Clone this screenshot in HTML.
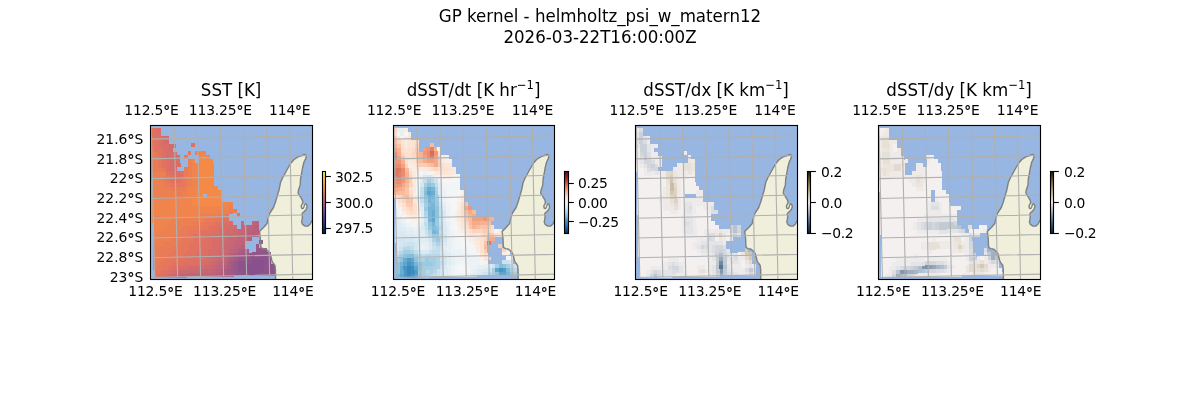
<!DOCTYPE html>
<html lang="en"><head><meta charset="utf-8"><title>GP kernel - helmholtz_psi_w_matern12</title>
<style>html,body{margin:0;padding:0;background:#fff}svg{display:block}text{font-family:"DejaVu Sans","Liberation Sans",sans-serif;fill:#000}</style></head><body>
<svg width="1200" height="400" viewBox="0 0 1200 400">
<rect width="1200" height="400" fill="#fff"/>
<defs>
<clipPath id="ax0"><rect x="150.50" y="125.50" width="162.00" height="154.00"/></clipPath>
<linearGradient id="cb0" x1="0" y1="0" x2="0" y2="1"><stop offset="0.0000" stop-color="#e7fa5a"/><stop offset="0.0417" stop-color="#eee851"/><stop offset="0.0833" stop-color="#f5d648"/><stop offset="0.1250" stop-color="#f8c542"/><stop offset="0.1667" stop-color="#fab33e"/><stop offset="0.2083" stop-color="#faa33f"/><stop offset="0.2500" stop-color="#f79443"/><stop offset="0.2917" stop-color="#f2864b"/><stop offset="0.3333" stop-color="#e87a58"/><stop offset="0.3750" stop-color="#dd6f64"/><stop offset="0.4167" stop-color="#ce696f"/><stop offset="0.4583" stop-color="#c0647a"/><stop offset="0.5000" stop-color="#b05e80"/><stop offset="0.5417" stop-color="#9f5986"/><stop offset="0.5833" stop-color="#91548a"/><stop offset="0.6250" stop-color="#824e8e"/><stop offset="0.6667" stop-color="#734892"/><stop offset="0.7083" stop-color="#644197"/><stop offset="0.7500" stop-color="#533b9a"/><stop offset="0.7917" stop-color="#41369a"/><stop offset="0.8333" stop-color="#2e3292"/><stop offset="0.8750" stop-color="#1c3179"/><stop offset="0.9167" stop-color="#0c2f60"/><stop offset="0.9583" stop-color="#082949"/><stop offset="1.0000" stop-color="#032333"/></linearGradient>
<clipPath id="ax1"><rect x="393.50" y="125.50" width="161.00" height="154.00"/></clipPath>
<linearGradient id="cb1" x1="0" y1="0" x2="0" y2="1"><stop offset="0.0000" stop-color="#67001f"/><stop offset="0.0417" stop-color="#840924"/><stop offset="0.0833" stop-color="#a51429"/><stop offset="0.1250" stop-color="#ba2832"/><stop offset="0.1667" stop-color="#c94741"/><stop offset="0.2083" stop-color="#d86551"/><stop offset="0.2500" stop-color="#e48066"/><stop offset="0.2917" stop-color="#f19e7d"/><stop offset="0.3333" stop-color="#f7b799"/><stop offset="0.3750" stop-color="#fbccb4"/><stop offset="0.4167" stop-color="#fcdfcf"/><stop offset="0.4583" stop-color="#f9ebe3"/><stop offset="0.5000" stop-color="#f7f6f6"/><stop offset="0.5417" stop-color="#e7f0f4"/><stop offset="0.5833" stop-color="#d7e8f1"/><stop offset="0.6250" stop-color="#c2ddec"/><stop offset="0.6667" stop-color="#a7d0e4"/><stop offset="0.7083" stop-color="#8ac0db"/><stop offset="0.7500" stop-color="#6bacd1"/><stop offset="0.7917" stop-color="#4997c5"/><stop offset="0.8333" stop-color="#3783bb"/><stop offset="0.8750" stop-color="#2a71b2"/><stop offset="0.9167" stop-color="#1c5c9f"/><stop offset="0.9583" stop-color="#10457e"/><stop offset="1.0000" stop-color="#053061"/></linearGradient>
<clipPath id="ax2"><rect x="635.50" y="125.50" width="162.00" height="154.00"/></clipPath>
<linearGradient id="cb2" x1="0" y1="0" x2="0" y2="1"><stop offset="0.0000" stop-color="#1c1803"/><stop offset="0.0417" stop-color="#352d12"/><stop offset="0.0833" stop-color="#4f4121"/><stop offset="0.1250" stop-color="#685630"/><stop offset="0.1667" stop-color="#7b6943"/><stop offset="0.2083" stop-color="#8d7b55"/><stop offset="0.2500" stop-color="#a08e68"/><stop offset="0.2917" stop-color="#b0a07f"/><stop offset="0.3333" stop-color="#bfb295"/><stop offset="0.3750" stop-color="#cfc4ac"/><stop offset="0.4167" stop-color="#dbd3c2"/><stop offset="0.4583" stop-color="#e8e1d9"/><stop offset="0.5000" stop-color="#f4f0ef"/><stop offset="0.5417" stop-color="#dedfe3"/><stop offset="0.5833" stop-color="#c8cfd7"/><stop offset="0.6250" stop-color="#b2becb"/><stop offset="0.6667" stop-color="#99aabb"/><stop offset="0.7083" stop-color="#8196ab"/><stop offset="0.7500" stop-color="#68829b"/><stop offset="0.7917" stop-color="#52718e"/><stop offset="0.8333" stop-color="#3c6180"/><stop offset="0.8750" stop-color="#265073"/><stop offset="0.9167" stop-color="#1c4161"/><stop offset="0.9583" stop-color="#123150"/><stop offset="1.0000" stop-color="#08223e"/></linearGradient>
<clipPath id="ax3"><rect x="878.50" y="125.50" width="162.00" height="154.00"/></clipPath>
<linearGradient id="cb3" x1="0" y1="0" x2="0" y2="1"><stop offset="0.0000" stop-color="#1c1803"/><stop offset="0.0417" stop-color="#352d12"/><stop offset="0.0833" stop-color="#4f4121"/><stop offset="0.1250" stop-color="#685630"/><stop offset="0.1667" stop-color="#7b6943"/><stop offset="0.2083" stop-color="#8d7b55"/><stop offset="0.2500" stop-color="#a08e68"/><stop offset="0.2917" stop-color="#b0a07f"/><stop offset="0.3333" stop-color="#bfb295"/><stop offset="0.3750" stop-color="#cfc4ac"/><stop offset="0.4167" stop-color="#dbd3c2"/><stop offset="0.4583" stop-color="#e8e1d9"/><stop offset="0.5000" stop-color="#f4f0ef"/><stop offset="0.5417" stop-color="#dedfe3"/><stop offset="0.5833" stop-color="#c8cfd7"/><stop offset="0.6250" stop-color="#b2becb"/><stop offset="0.6667" stop-color="#99aabb"/><stop offset="0.7083" stop-color="#8196ab"/><stop offset="0.7500" stop-color="#68829b"/><stop offset="0.7917" stop-color="#52718e"/><stop offset="0.8333" stop-color="#3c6180"/><stop offset="0.8750" stop-color="#265073"/><stop offset="0.9167" stop-color="#1c4161"/><stop offset="0.9583" stop-color="#123150"/><stop offset="1.0000" stop-color="#08223e"/></linearGradient>
<path id="land" d="M275.6 281.0 L275.5 270.0 L275.0 265.5 L273.5 263.5 L272.0 261.0 L271.0 257.0 L270.0 253.5 L268.5 251.5 L266.0 249.3 L263.0 248.6 L261.0 247.6 L260.6 244.0 L260.5 240.0 L260.0 235.0 L259.5 231.5 L261.0 230.0 L264.0 227.0 L267.0 223.5 L267.5 221.0 L269.0 215.0 L270.5 212.0 L273.5 207.5 L275.5 202.0 L277.5 195.0 L279.0 190.0 L280.5 182.5 L282.5 178.0 L285.0 173.5 L288.0 168.0 L291.0 163.0 L294.0 159.5 L298.0 156.8 L302.0 155.5 L303.3 154.8 L304.5 154.7 L305.0 154.4 L305.9 155.0 L306.3 156.5 L305.7 158.6 L304.0 162.0 L302.5 168.0 L301.5 174.0 L300.5 179.0 L300.2 185.0 L298.5 190.0 L298.0 193.0 L299.8 195.9 L302.5 200.4 L302.9 203.3 L305.4 203.8 L306.5 204.4 L307.1 206.7 L306.2 209.4 L304.3 211.4 L302.5 213.0 L302.0 214.4 L302.5 216.6 L302.0 220.2 L301.6 222.0 L302.5 224.3 L305.2 226.1 L307.9 226.1 L310.1 224.3 L311.5 221.6 L312.6 219.8 L315.0 217.0 L316.0 217.0 L316.0 281.0Z"/>
<path id="coast" d="M275.6 281.0 L275.5 270.0 L275.0 265.5 L273.5 263.5 L272.0 261.0 L271.0 257.0 L270.0 253.5 L268.5 251.5 L266.0 249.3 L263.0 248.6 L261.0 247.6 L260.6 244.0 L260.5 240.0 L260.0 235.0 L259.5 231.5 L261.0 230.0 L264.0 227.0 L267.0 223.5 L267.5 221.0 L269.0 215.0 L270.5 212.0 L273.5 207.5 L275.5 202.0 L277.5 195.0 L279.0 190.0 L280.5 182.5 L282.5 178.0 L285.0 173.5 L288.0 168.0 L291.0 163.0 L294.0 159.5 L298.0 156.8 L302.0 155.5 L303.3 154.8 L304.5 154.7 L305.0 154.4 L305.9 155.0 L306.3 156.5 L305.7 158.6 L304.0 162.0 L302.5 168.0 L301.5 174.0 L300.5 179.0 L300.2 185.0 L298.5 190.0 L298.0 193.0 L299.8 195.9 L302.5 200.4 L302.9 203.3 L302.0 204.3 L301.2 206.3 L301.7 208.2 L303.1 208.5 L304.0 206.7 L304.5 204.7 L305.4 203.8 L306.5 204.4 L307.1 206.7 L306.2 209.4 L304.3 211.4 L302.5 213.0 L302.0 214.4 L302.5 216.6 L302.0 220.2 L301.6 222.0 L302.5 224.3 L305.2 226.1 L307.9 226.1 L310.1 224.3 L311.5 221.6 L312.6 219.8 L315.0 217.0"/>
<path id="grid" d="M150.76 109.42L155.04 297.24M173.85 108.94L178.03 296.75M196.94 108.45L201.03 296.26M220.03 107.96L224.02 295.78M243.12 107.47L247.02 295.29M266.21 106.99L270.02 294.80M289.30 106.50L293.01 294.31M312.40 106.01L316.01 293.83M141.76 119.50L326.44 115.60M142.21 139.27L326.81 135.37M142.66 159.04L327.18 155.14M143.12 178.81L327.56 174.91M143.57 198.58L327.93 194.68M144.03 218.35L328.31 214.45M144.48 238.12L328.68 234.22M144.93 257.89L329.05 253.99M145.39 277.66L329.43 273.76M145.84 297.43L329.80 293.53"/>
</defs>
<text x="600" y="0" transform="matrix(1 0 0 1.06 0 21.8)" font-size="16.67" text-anchor="middle">GP kernel - helmholtz_psi_w_matern12</text>
<text x="600" y="0" transform="matrix(1 0 0 1.06 0 43.0)" font-size="16.67" text-anchor="middle">2026-03-22T16:00:00Z</text>
<g clip-path="url(#ax0)">
<rect x="149.5" y="124.5" width="164.0" height="156.0" fill="#97b6e1"/>
<use href="#land" fill="#efefdb" transform="translate(0.00 0)"/>
<g shape-rendering="crispEdges">
<path fill="#8d538b" d="M238 261h4v5h-4z"/>
<path fill="#dd6f64" d="M194 262h4v5h-4z"/>
<path fill="#ed8051" d="M159 176h4v5h-4zM164 235h4v5h-4z"/>
<path fill="#f48948" d="M196 191h4v5h-4z"/>
<path fill="#88518d" d="M252 260h12v4h-12zM245 264h19v4h-19zM245 268h19v4h-19zM249 272h11v4h-11z"/>
<path fill="#8d538b" d="M252 256h15v4h-15zM238 261h3v4h-3zM241 261h4v3h-4zM245 260h7v4h-7zM264 260h7v4h-7zM238 265h4v4h-4zM242 264h3v4h-3zM264 264h11v4h-11zM238 269h4v3h-4zM242 268h3v4h-3zM264 268h11v4h-11zM242 272h7v4h-7zM260 272h15v4h-15z"/>
<path fill="#92558a" d="M263 248h4v4h-4zM252 252h19v4h-19zM245 257h4v3h-4zM249 256h3v4h-3zM267 256h4v4h-4zM238 272h4v4h-4z"/>
<path fill="#985788" d="M256 248h7v4h-7zM249 253h3v3h-3zM238 257h7v4h-7zM234 261h4v4h-4zM234 265h4v4h-4zM234 269h4v4h-4zM234 273h4v3h-4z"/>
<path fill="#9e5987" d="M259 240h4v4h-4zM256 244h3v4h-3zM241 253h8v4h-8zM231 265h3v4h-3zM231 269h3v4h-3zM231 273h3v4h-3z"/>
<path fill="#a35b85" d="M238 253h3v4h-3zM234 257h4v4h-4zM230 261h4v4h-4zM227 269h4v4h-4zM227 273h4v4h-4z"/>
<path fill="#a95d82" d="M241 249h8v4h-8zM227 265h4v4h-4zM223 269h4v4h-4zM223 273h4v4h-4z"/>
<path fill="#b05e80" d="M238 249h3v4h-3zM234 253h4v4h-4zM230 257h4v4h-4zM227 261h3v4h-3zM220 273h3v4h-3z"/>
<path fill="#b6607e" d="M255 225h4v4h-4zM252 229h7v4h-7zM248 233h11v4h-11zM248 237h4v4h-4zM241 245h4v4h-4zM230 253h4v4h-4zM227 257h3v4h-3zM223 265h4v4h-4zM220 269h3v4h-3zM216 273h4v4h-4z"/>
<path fill="#bc627b" d="M255 221h4v4h-4zM252 225h3v4h-3zM248 229h4v4h-4zM245 233h3v4h-3zM245 237h3v4h-3zM241 241h4v4h-4zM237 245h4v4h-4zM234 249h4v4h-4zM223 261h4v4h-4zM220 265h3v4h-3zM216 269h4v4h-4zM209 273h7v4h-7z"/>
<path fill="#c26479" d="M252 221h3v4h-3zM248 225h4v4h-4zM244 229h4v4h-4zM241 233h4v4h-4zM237 237h8v4h-8zM234 241h7v4h-7zM234 245h3v4h-3zM230 249h4v4h-4zM227 253h3v4h-3zM223 257h4v4h-4zM219 261h4v4h-4zM216 265h4v4h-4zM212 269h4v4h-4zM179 274h8v4h-8zM187 274h3v3h-3zM190 273h19v4h-19z"/>
<path fill="#c76674" d="M241 225h7v4h-7zM237 229h7v4h-7zM237 233h4v4h-4zM230 237h7v4h-7zM230 241h4v4h-4zM226 245h8v4h-8zM227 249h3v4h-3zM223 253h4v4h-4zM219 257h4v4h-4zM216 261h3v4h-3zM212 265h4v4h-4zM201 269h11v4h-11zM176 274h3v4h-3z"/>
<path fill="#cc6970" d="M241 221h3v4h-3zM233 229h4v4h-4zM230 233h7v4h-7zM226 237h4v4h-4zM223 241h7v4h-7zM223 245h3v4h-3zM223 249h4v4h-4zM219 253h4v4h-4zM216 257h3v4h-3zM212 261h4v4h-4zM205 265h7v4h-7zM179 270h11v4h-11zM190 270h4v3h-4zM194 269h7v4h-7zM172 274h4v4h-4z"/>
<path fill="#d26b6c" d="M165 140h4v4h-4zM169 144h7v4h-7zM169 148h4v4h-4zM173 156h4v4h-4zM230 225h7v4h-7zM226 229h7v4h-7zM223 233h7v4h-7zM219 237h7v4h-7zM219 241h4v4h-4zM219 245h4v4h-4zM216 249h7v4h-7zM216 253h3v4h-3zM212 257h4v4h-4zM208 261h4v4h-4zM187 266h7v4h-7zM194 266h4v3h-4zM198 265h7v4h-7zM176 270h3v4h-3zM168 274h4v4h-4z"/>
<path fill="#d86d68" d="M158 128h3v4h-3zM162 136h7v4h-7zM162 140h3v4h-3zM162 144h7v4h-7zM165 148h4v4h-4zM166 152h11v4h-11zM166 156h7v4h-7zM177 155h3v4h-3zM169 160h4v4h-4zM173 160h4v3h-4zM177 159h3v4h-3zM170 164h3v3h-3zM173 163h8v4h-8zM170 167h7v4h-7zM230 221h3v4h-3zM222 225h8v4h-8zM219 229h7v4h-7zM215 234h4v3h-4zM219 233h4v4h-4zM212 238h3v3h-3zM215 237h4v4h-4zM212 241h7v4h-7zM212 245h7v4h-7zM208 249h8v4h-8zM208 253h8v4h-8zM205 257h7v4h-7zM201 261h7v4h-7zM179 266h8v4h-8zM172 270h4v4h-4zM165 274h3v4h-3z"/>
<path fill="#dd6f64" d="M154 128h4v4h-4zM154 132h7v4h-7zM154 136h8v4h-8zM158 140h4v4h-4zM158 144h4v4h-4zM191 143h4v4h-4zM162 148h3v4h-3zM162 152h4v4h-4zM162 156h4v4h-4zM166 160h3v4h-3zM166 164h4v4h-4zM166 168h4v3h-4zM170 171h11v4h-11zM173 175h8v4h-8zM222 222h4v3h-4zM226 221h4v4h-4zM215 226h4v4h-4zM219 226h3v3h-3zM211 230h8v4h-8zM204 234h11v4h-11zM204 238h8v4h-8zM201 242h7v4h-7zM208 242h4v3h-4zM201 246h7v4h-7zM208 245h4v4h-4zM197 250h8v4h-8zM205 250h3v3h-3zM194 254h7v4h-7zM201 254h4v3h-4zM205 253h3v4h-3zM190 258h7v4h-7zM197 258h4v3h-4zM201 257h4v4h-4zM183 262h14v4h-14zM197 261h4v4h-4zM172 266h7v4h-7zM168 270h4v4h-4zM161 274h4v4h-4z"/>
<path fill="#e27260" d="M150 128h4v4h-4zM150 132h4v4h-4zM151 136h3v4h-3zM154 140h4v4h-4zM154 144h4v4h-4zM154 148h8v4h-8zM158 152h4v4h-4zM162 160h4v4h-4zM162 164h4v4h-4zM166 171h4v4h-4zM181 171h3v4h-3zM170 175h3v4h-3zM181 175h3v4h-3zM170 179h11v4h-11zM237 213h3v4h-3zM222 218h4v4h-4zM226 218h3v3h-3zM215 222h7v4h-7zM208 226h7v4h-7zM200 230h11v4h-11zM193 234h11v4h-11zM193 238h11v4h-11zM190 242h11v4h-11zM190 246h11v4h-11zM186 250h11v4h-11zM183 254h11v4h-11zM179 258h11v4h-11zM172 262h11v4h-11zM168 266h4v4h-4zM161 270h7v4h-7zM157 274h4v4h-4z"/>
<path fill="#e6775b" d="M151 140h3v4h-3zM151 144h3v4h-3zM151 148h3v4h-3zM155 152h3v4h-3zM188 151h3v4h-3zM158 156h4v4h-4zM184 155h4v4h-4zM158 160h4v4h-4zM158 164h4v4h-4zM162 168h4v4h-4zM166 175h4v4h-4zM166 179h4v4h-4zM181 179h4v4h-4zM170 183h15v4h-15zM226 214h3v4h-3zM215 218h7v4h-7zM204 222h11v4h-11zM197 226h11v4h-11zM189 230h11v4h-11zM186 234h7v4h-7zM182 238h11v4h-11zM179 242h11v4h-11zM175 246h15v4h-15zM171 250h15v4h-15zM168 254h15v4h-15zM164 258h15v4h-15zM161 262h11v4h-11zM157 266h11v4h-11zM154 270h7v4h-7zM154 274h3v4h-3z"/>
<path fill="#e97b56" d="M151 152h4v4h-4zM151 156h7v4h-7zM151 160h7v4h-7zM151 164h7v4h-7zM151 168h11v4h-11zM184 167h4v4h-4zM184 171h4v4h-4zM162 176h4v3h-4zM184 175h4v4h-4zM163 179h3v4h-3zM185 179h3v4h-3zM163 183h7v4h-7zM185 183h3v4h-3zM170 187h15v4h-15zM177 191h4v4h-4zM229 210h4v4h-4zM233 209h4v4h-4zM218 214h8v4h-8zM204 218h11v4h-11zM193 222h11v4h-11zM182 226h15v4h-15zM178 230h11v4h-11zM175 234h11v4h-11zM171 238h11v4h-11zM164 242h15v4h-15zM153 247h7v4h-7zM160 247h4v3h-4zM164 246h11v4h-11zM153 251h4v4h-4zM157 251h3v3h-3zM160 250h11v4h-11zM153 255h4v3h-4zM157 254h11v4h-11zM153 258h11v4h-11zM153 262h8v4h-8zM153 266h4v4h-4z"/>
<path fill="#ed8051" d="M195 151h4v4h-4zM188 159h3v4h-3zM188 163h4v4h-4zM188 167h4v4h-4zM151 172h15v4h-15zM188 171h4v4h-4zM151 176h11v4h-11zM188 175h4v4h-4zM152 180h7v4h-7zM159 180h4v3h-4zM188 179h4v4h-4zM152 184h3v4h-3zM155 184h4v3h-4zM159 183h4v4h-4zM188 183h4v4h-4zM152 188h3v4h-3zM155 187h15v4h-15zM185 187h3v4h-3zM152 192h3v3h-3zM155 191h22v4h-22zM181 191h7v4h-7zM152 195h33v4h-33zM229 206h4v4h-4zM218 210h11v4h-11zM200 214h18v4h-18zM171 219h7v4h-7zM178 219h4v3h-4zM182 218h22v4h-22zM167 223h8v4h-8zM175 223h3v3h-3zM178 222h15v4h-15zM164 227h11v4h-11zM175 226h7v4h-7zM153 231h18v4h-18zM171 231h4v3h-4zM175 230h3v4h-3zM153 235h14v4h-14zM167 235h4v3h-4zM171 234h4v4h-4zM153 239h11v4h-11zM164 239h4v3h-4zM168 238h3v4h-3zM153 243h11v4h-11z"/>
<path fill="#f0844c" d="M199 151h7v4h-7zM199 155h3v4h-3zM206 155h4v4h-4zM191 159h4v4h-4zM192 163h7v4h-7zM192 167h7v4h-7zM192 171h7v4h-7zM192 175h7v4h-7zM192 179h7v4h-7zM192 183h7v4h-7zM188 187h8v4h-8zM188 191h8v4h-8zM185 195h11v4h-11zM152 199h40v4h-40zM152 203h37v4h-37zM189 203h3v3h-3zM222 202h11v4h-11zM152 207h33v4h-33zM185 207h4v3h-4zM189 206h40v4h-40zM152 211h33v4h-33zM185 210h33v4h-33zM152 215h30v4h-30zM182 215h3v3h-3zM185 214h15v4h-15zM152 219h19v4h-19zM153 223h14v4h-14zM153 227h11v4h-11z"/>
<path fill="#f48948" d="M202 155h4v4h-4zM199 159h14v4h-14zM199 163h15v4h-15zM199 167h15v4h-15zM199 171h11v4h-11zM210 171h4v3h-4zM199 175h11v4h-11zM210 174h4v4h-4zM199 179h8v4h-8zM207 179h3v3h-3zM210 178h4v4h-4zM199 183h4v4h-4zM203 183h4v3h-4zM207 182h7v4h-7zM196 187h3v4h-3zM199 187h4v3h-4zM203 186h15v4h-15zM196 191h3v4h-3zM199 190h23v4h-23zM196 195h4v3h-4zM200 194h3v4h-3zM207 194h15v4h-15zM192 199h4v3h-4zM196 198h26v4h-26zM192 202h30v4h-30z"/>
</g>
<g transform="translate(0.00 0)">
<use href="#coast" fill="none" stroke="#808080" stroke-width="1.39" stroke-linejoin="round"/>
<use href="#grid" fill="none" stroke="#b0b0b0" stroke-width="1.11"/>
</g></g>
<rect x="150.5" y="125.5" width="162.0" height="154.0" fill="none" stroke="#000" stroke-width="1.11"/>
<text x="231.10" y="0" transform="matrix(1 0 0 1.07 0 95.8)" font-size="16.67" text-anchor="middle">SST [K]</text>
<text x="151.50" y="115.1" font-size="13.89" letter-spacing="-0.16" text-anchor="middle">112.5<tspan dy="1.2" stroke="#000" stroke-width="0.25">°</tspan><tspan dy="-1.2">E</tspan></text>
<text x="155.40" y="296.3" font-size="13.89" letter-spacing="-0.16" text-anchor="middle">112.5<tspan dy="1.2" stroke="#000" stroke-width="0.25">°</tspan><tspan dy="-1.2">E</tspan></text>
<text x="220.30" y="115.1" font-size="13.89" letter-spacing="-0.16" text-anchor="middle">113.25<tspan dy="1.2" stroke="#000" stroke-width="0.25">°</tspan><tspan dy="-1.2">E</tspan></text>
<text x="224.60" y="296.3" font-size="13.89" letter-spacing="-0.16" text-anchor="middle">113.25<tspan dy="1.2" stroke="#000" stroke-width="0.25">°</tspan><tspan dy="-1.2">E</tspan></text>
<text x="289.75" y="115.1" font-size="13.89" letter-spacing="-0.16" text-anchor="middle">114<tspan dy="1.2" stroke="#000" stroke-width="0.25">°</tspan><tspan dy="-1.2">E</tspan></text>
<text x="292.90" y="296.3" font-size="13.89" letter-spacing="-0.16" text-anchor="middle">114<tspan dy="1.2" stroke="#000" stroke-width="0.25">°</tspan><tspan dy="-1.2">E</tspan></text>
<text x="143.2" y="144.00" font-size="13.89" text-anchor="end">21.6<tspan dy="1.2" stroke="#000" stroke-width="0.25">°</tspan><tspan dy="-1.2">S</tspan></text>
<text x="143.2" y="163.66" font-size="13.89" text-anchor="end">21.8<tspan dy="1.2" stroke="#000" stroke-width="0.25">°</tspan><tspan dy="-1.2">S</tspan></text>
<text x="143.2" y="183.32" font-size="13.89" text-anchor="end">22<tspan dy="1.2" stroke="#000" stroke-width="0.25">°</tspan><tspan dy="-1.2">S</tspan></text>
<text x="143.2" y="202.98" font-size="13.89" text-anchor="end">22.2<tspan dy="1.2" stroke="#000" stroke-width="0.25">°</tspan><tspan dy="-1.2">S</tspan></text>
<text x="143.2" y="222.64" font-size="13.89" text-anchor="end">22.4<tspan dy="1.2" stroke="#000" stroke-width="0.25">°</tspan><tspan dy="-1.2">S</tspan></text>
<text x="143.2" y="242.30" font-size="13.89" text-anchor="end">22.6<tspan dy="1.2" stroke="#000" stroke-width="0.25">°</tspan><tspan dy="-1.2">S</tspan></text>
<text x="143.2" y="261.96" font-size="13.89" text-anchor="end">22.8<tspan dy="1.2" stroke="#000" stroke-width="0.25">°</tspan><tspan dy="-1.2">S</tspan></text>
<text x="143.2" y="281.62" font-size="13.89" text-anchor="end">23<tspan dy="1.2" stroke="#000" stroke-width="0.25">°</tspan><tspan dy="-1.2">S</tspan></text>
<rect x="322.50" y="171.50" width="3.00" height="62.00" fill="url(#cb0)"/>
<rect x="322.50" y="171.50" width="3.00" height="62.00" fill="none" stroke="#000" stroke-width="1.11"/>
<path d="M326.00 176.5h4.86" stroke="#000" stroke-width="1.11"/>
<text x="335.00" y="181.75" font-size="13.89" letter-spacing="-0.35">302.5</text>
<path d="M326.00 202.5h4.86" stroke="#000" stroke-width="1.11"/>
<text x="335.00" y="207.70" font-size="13.89" letter-spacing="-0.35">300.0</text>
<path d="M326.00 228.5h4.86" stroke="#000" stroke-width="1.11"/>
<text x="335.00" y="233.00" font-size="13.89" letter-spacing="-0.35">297.5</text>
<g clip-path="url(#ax1)">
<rect x="392.5" y="124.5" width="163.0" height="156.0" fill="#97b6e1"/>
<use href="#land" fill="#efefdb" transform="translate(242.60 0)"/>
<g shape-rendering="crispEdges">
<path fill="#aed3e6" d="M433 266h4v5h-4z"/>
<path fill="#d4e6f1" d="M403 239h4v5h-4z"/>
<path fill="#fbccb4" d="M465 218h4v5h-4z"/>
<path fill="#e98b6e" d="M398 180h4v5h-4z"/>
<path fill="#3a87bd" d="M407 266h4v4h-4zM407 270h4v4h-4z"/>
<path fill="#3f8ec0" d="M411 266h3v4h-3zM411 270h4v4h-4zM407 274h4v4h-4z"/>
<path fill="#4695c4" d="M407 262h4v4h-4zM403 266h4v4h-4zM404 270h3v4h-3zM499 268h4v4h-4zM404 274h3v4h-3zM411 274h4v4h-4z"/>
<path fill="#529dc8" d="M407 258h4v4h-4zM411 262h3v4h-3zM415 270h3v4h-3zM503 268h3v4h-3z"/>
<path fill="#5fa5cd" d="M427 191h4v4h-4zM432 218h3v4h-3zM411 258h3v4h-3zM403 262h4v4h-4zM414 266h4v4h-4zM495 268h4v4h-4zM400 274h4v4h-4zM415 274h3v4h-3zM499 272h7v4h-7z"/>
<path fill="#6bacd1" d="M427 187h4v4h-4zM431 191h4v4h-4zM428 195h3v4h-3zM432 210h3v4h-3zM432 214h3v4h-3zM403 258h4v4h-4zM400 266h3v4h-3zM400 270h4v4h-4z"/>
<path fill="#78b4d5" d="M431 187h4v4h-4zM431 195h4v4h-4zM428 199h3v4h-3zM431 203h4v3h-4zM428 207h3v3h-3zM431 206h4v4h-4zM428 210h4v4h-4zM428 214h4v4h-4zM428 218h4v4h-4zM432 222h3v4h-3zM432 230h4v4h-4zM400 262h3v4h-3zM414 262h4v4h-4zM396 274h4v4h-4zM506 272h4v4h-4z"/>
<path fill="#84bcd9" d="M424 191h3v4h-3zM431 199h4v4h-4zM428 203h3v4h-3zM432 226h4v4h-4zM436 230h3v4h-3zM407 254h7v4h-7zM499 264h4v4h-4zM506 268h4v4h-4z"/>
<path fill="#90c4dd" d="M427 183h4v4h-4zM424 187h3v4h-3zM424 195h4v4h-4zM435 206h4v4h-4zM435 210h4v4h-4zM435 214h4v4h-4zM428 222h4v4h-4zM436 226h3v4h-3zM403 254h4v4h-4zM400 258h3v4h-3zM414 258h4v4h-4zM396 262h4v4h-4zM418 262h4v4h-4zM396 266h4v4h-4zM418 266h4v4h-4zM503 264h3v4h-3zM396 270h4v4h-4zM418 274h4v4h-4zM495 272h4v4h-4z"/>
<path fill="#9bc9e0" d="M431 183h4v4h-4zM424 199h4v4h-4zM435 199h4v3h-4zM435 202h4v4h-4zM424 207h4v4h-4zM435 218h4v4h-4zM435 222h4v4h-4zM428 226h4v4h-4zM432 234h7v4h-7zM436 238h4v4h-4zM425 258h4v4h-4zM422 262h11v4h-11zM418 270h4v4h-4zM510 272h4v4h-4z"/>
<path fill="#a5cee3" d="M427 179h4v4h-4zM424 183h3v4h-3zM435 191h3v4h-3zM435 195h4v4h-4zM424 203h4v4h-4zM403 250h7v4h-7zM399 254h4v4h-4zM414 254h4v4h-4zM396 258h4v4h-4zM429 258h7v4h-7zM433 262h3v4h-3zM422 266h11v4h-11zM495 264h4v4h-4zM506 264h4v4h-4zM422 270h4v4h-4zM492 268h3v4h-3zM422 274h4v4h-4zM492 272h3v4h-3zM514 272h3v4h-3z"/>
<path fill="#aed3e6" d="M435 187h3v4h-3zM424 211h4v4h-4zM428 230h4v4h-4zM432 238h4v4h-4zM436 242h4v4h-4zM410 250h4v4h-4zM418 258h7v4h-7zM436 258h4v4h-4zM436 262h4v4h-4zM433 266h3v4h-3zM436 266h4v3h-4zM429 270h4v4h-4zM510 268h4v4h-4zM426 274h3v4h-3z"/>
<path fill="#b8d8e9" d="M431 179h3v4h-3zM424 215h4v3h-4zM439 226h4v4h-4zM428 234h4v4h-4zM439 234h4v4h-4zM440 238h3v4h-3zM403 247h4v3h-4zM407 246h3v4h-3zM399 251h4v3h-4zM396 255h3v3h-3zM418 254h4v4h-4zM425 254h15v4h-15zM426 270h3v4h-3zM433 270h4v3h-4zM514 268h3v4h-3zM429 274h4v3h-4zM488 272h4v4h-4z"/>
<path fill="#c2ddec" d="M423 179h4v4h-4zM435 183h3v4h-3zM420 187h4v4h-4zM420 191h4v4h-4zM420 195h4v4h-4zM420 199h4v4h-4zM439 206h3v4h-3zM439 210h4v4h-4zM439 214h4v4h-4zM424 222h4v4h-4zM439 222h4v4h-4zM425 226h3v4h-3zM439 230h4v4h-4zM432 242h4v4h-4zM440 242h3v4h-3zM410 246h4v4h-4zM436 246h4v4h-4zM414 250h4v4h-4zM432 250h8v4h-8zM422 254h3v4h-3zM440 261h4v4h-4zM510 264h4v4h-4zM433 273h4v4h-4z"/>
<path fill="#cce2ef" d="M434 179h4v4h-4zM439 202h3v4h-3zM424 218h4v4h-4zM439 218h4v4h-4zM425 230h3v4h-3zM403 243h4v4h-4zM407 242h7v4h-7zM399 247h4v4h-4zM432 246h4v4h-4zM440 246h3v4h-3zM396 251h3v4h-3zM429 250h3v4h-3zM440 254h4v4h-4zM440 258h4v3h-4zM502 260h8v4h-8zM440 265h4v4h-4zM492 264h3v4h-3zM514 264h3v4h-3zM437 269h3v4h-3zM488 268h4v4h-4zM437 273h3v4h-3zM484 272h4v4h-4z"/>
<path fill="#d4e6f1" d="M427 175h4v4h-4zM420 183h4v4h-4zM439 195h3v3h-3zM420 203h4v4h-4zM425 234h3v4h-3zM443 234h4v4h-4zM399 239h7v4h-7zM406 239h4v3h-4zM410 238h4v4h-4zM428 238h4v4h-4zM443 238h4v4h-4zM399 243h4v4h-4zM414 242h4v4h-4zM414 246h4v4h-4zM418 250h3v4h-3zM440 250h3v4h-3zM444 257h3v4h-3zM444 261h3v4h-3zM440 269h4v4h-4zM440 273h4v4h-4zM481 272h3v4h-3z"/>
<path fill="#dae9f2" d="M423 175h4v4h-4zM420 179h3v4h-3zM438 191h4v4h-4zM439 198h3v4h-3zM443 210h3v4h-3zM443 214h3v4h-3zM443 222h3v4h-3zM421 226h4v4h-4zM443 226h4v4h-4zM395 231h11v4h-11zM443 230h4v4h-4zM395 235h15v4h-15zM410 235h4v3h-4zM395 239h4v4h-4zM414 238h7v4h-7zM396 243h3v4h-3zM429 242h3v4h-3zM443 242h4v4h-4zM396 247h3v4h-3zM429 246h3v4h-3zM421 250h8v4h-8zM444 254h3v3h-3zM510 260h3v4h-3zM444 265h3v4h-3zM481 269h3v3h-3zM484 268h4v4h-4zM477 273h4v3h-4z"/>
<path fill="#e0ecf3" d="M431 175h3v4h-3zM438 183h4v4h-4zM438 187h4v4h-4zM420 207h4v4h-4zM442 206h4v4h-4zM421 211h3v4h-3zM421 215h3v4h-3zM395 219h4v4h-4zM443 218h3v4h-3zM395 223h7v4h-7zM421 222h3v4h-3zM395 227h11v4h-11zM406 231h8v4h-8zM417 230h8v4h-8zM414 234h11v4h-11zM421 238h7v4h-7zM418 242h3v4h-3zM418 246h3v4h-3zM443 250h4v4h-4zM447 253h4v4h-4zM447 257h4v4h-4zM447 261h4v4h-4zM488 264h4v4h-4zM444 269h4v4h-4zM477 269h4v4h-4zM444 273h4v4h-4zM473 273h4v4h-4z"/>
<path fill="#e6eff4" d="M397 128h7v4h-7zM400 132h4v4h-4zM420 175h3v4h-3zM416 195h4v4h-4zM417 199h3v4h-3zM442 202h4v4h-4zM395 215h4v4h-4zM399 219h3v4h-3zM421 219h3v3h-3zM402 223h4v4h-4zM446 222h4v4h-4zM406 227h8v4h-8zM417 226h4v4h-4zM447 226h3v4h-3zM414 231h3v3h-3zM447 230h3v4h-3zM447 234h3v4h-3zM447 238h4v4h-4zM421 242h8v4h-8zM447 242h4v4h-4zM425 246h4v4h-4zM443 246h8v4h-8zM447 250h4v3h-4zM451 253h4v4h-4zM451 257h4v4h-4zM451 261h4v4h-4zM447 265h4v4h-4zM477 265h7v4h-7zM484 264h4v4h-4zM448 269h3v4h-3zM473 269h4v4h-4zM448 273h3v4h-3zM470 273h3v4h-3z"/>
<path fill="#ecf2f5" d="M423 171h4v4h-4zM434 175h4v4h-4zM438 179h4v4h-4zM442 187h4v3h-4zM442 190h4v4h-4zM442 194h4v4h-4zM442 198h4v4h-4zM395 207h3v4h-3zM446 206h4v4h-4zM395 211h4v4h-4zM446 210h4v4h-4zM399 215h3v4h-3zM446 214h4v4h-4zM402 219h4v4h-4zM446 218h4v4h-4zM406 223h4v4h-4zM417 223h4v3h-4zM414 227h3v4h-3zM450 230h4v4h-4zM450 234h4v4h-4zM451 238h3v4h-3zM451 242h3v3h-3zM421 246h4v4h-4zM451 245h3v4h-3zM451 249h11v4h-11zM455 253h14v4h-14zM455 257h25v4h-25zM455 261h3v4h-3zM466 261h14v4h-14zM451 265h4v4h-4zM469 265h8v4h-8zM451 269h4v4h-4zM470 269h3v4h-3zM451 273h4v4h-4zM466 273h4v4h-4z"/>
<path fill="#f2f5f6" d="M397 132h3v4h-3zM427 171h4v4h-4zM457 178h3v4h-3zM416 183h4v4h-4zM442 183h4v4h-4zM446 183h3v3h-3zM449 182h11v4h-11zM416 187h4v4h-4zM446 186h14v4h-14zM416 191h4v4h-4zM446 190h11v4h-11zM446 194h7v4h-7zM446 198h4v4h-4zM417 203h3v4h-3zM446 202h4v4h-4zM450 206h3v4h-3zM450 210h4v4h-4zM450 214h4v4h-4zM417 219h4v4h-4zM450 218h4v4h-4zM410 223h7v4h-7zM450 222h4v4h-4zM450 226h4v4h-4zM454 230h4v4h-4zM454 234h4v4h-4zM454 238h4v3h-4zM458 237h4v4h-4zM454 241h8v4h-8zM454 245h15v4h-15zM462 249h11v4h-11zM469 253h8v4h-8zM506 256h7v4h-7zM458 261h8v4h-8zM480 261h4v4h-4zM455 265h3v4h-3zM466 265h3v4h-3zM455 269h4v4h-4zM466 269h4v4h-4zM455 273h11v4h-11z"/>
<path fill="#f7f6f6" d="M404 132h4v4h-4zM437 147h4v4h-4zM420 171h3v4h-3zM416 175h4v4h-4zM438 175h4v4h-4zM416 179h4v4h-4zM442 179h7v4h-7zM449 179h4v3h-4zM453 178h4v4h-4zM457 190h3v4h-3zM453 194h4v4h-4zM450 198h7v4h-7zM395 203h3v4h-3zM450 202h7v4h-7zM453 206h4v4h-4zM399 211h3v4h-3zM402 215h4v4h-4zM417 215h4v4h-4zM406 219h4v4h-4zM454 222h3v4h-3zM454 226h4v4h-4zM494 229h4v4h-4zM458 234h3v3h-3zM462 237h3v4h-3zM462 241h7v4h-7zM469 245h4v4h-4zM473 249h3v4h-3zM477 253h3v4h-3zM458 265h8v4h-8zM459 269h7v4h-7z"/>
<path fill="#f8f2ef" d="M400 136h4v4h-4zM445 155h4v4h-4zM416 171h4v4h-4zM431 171h3v4h-3zM453 174h7v4h-7zM460 190h4v4h-4zM457 194h4v4h-4zM457 198h4v4h-4zM398 207h4v4h-4zM417 211h4v4h-4zM454 210h3v4h-3zM454 214h3v4h-3zM410 219h7v4h-7zM454 218h3v4h-3zM458 230h3v4h-3zM461 233h4v4h-4zM465 237h4v4h-4zM469 241h4v4h-4zM473 245h3v4h-3zM506 252h4v4h-4zM480 257h4v4h-4zM484 261h4v3h-4z"/>
<path fill="#f9eee7" d="M404 128h4v4h-4zM404 136h4v4h-4zM441 155h4v4h-4zM445 159h7v4h-7zM408 164h4v4h-4zM412 167h4v4h-4zM442 175h11v4h-11zM413 191h3v4h-3zM461 194h3v4h-3zM395 199h3v4h-3zM457 202h4v4h-4zM417 207h3v4h-3zM457 206h4v4h-4zM402 211h4v4h-4zM406 215h4v4h-4zM457 222h4v4h-4zM458 226h3v4h-3zM461 229h4v4h-4zM498 229h4v4h-4zM469 237h4v4h-4zM473 241h3v4h-3zM476 249h4v4h-4zM502 252h4v4h-4z"/>
<path fill="#fae9df" d="M408 132h3v4h-3zM404 140h4v4h-4zM404 144h4v4h-4zM408 160h4v4h-4zM441 159h4v4h-4zM412 164h4v3h-4zM416 167h11v4h-11zM453 167h3v4h-3zM412 171h4v4h-4zM434 171h8v4h-8zM449 171h4v4h-4zM453 171h3v3h-3zM412 175h4v4h-4zM412 179h4v4h-4zM413 183h3v4h-3zM413 187h3v4h-3zM413 195h3v4h-3zM413 199h4v4h-4zM461 198h3v4h-3zM398 203h4v4h-4zM457 210h4v4h-4zM410 215h7v4h-7zM457 214h4v4h-4zM457 218h4v4h-4zM465 233h4v4h-4zM476 233h4v4h-4zM473 237h3v4h-3zM476 241h4v4h-4zM476 245h4v4h-4zM506 248h4v4h-4zM480 253h4v4h-4z"/>
<path fill="#fbe5d8" d="M397 136h3v4h-3zM408 136h3v4h-3zM401 140h3v4h-3zM408 140h4v4h-4zM408 144h4v4h-4zM404 148h4v4h-4zM412 160h4v4h-4zM445 163h7v4h-7zM409 168h3v3h-3zM427 167h4v4h-4zM449 167h4v4h-4zM442 171h7v4h-7zM402 207h4v4h-4zM406 211h4v4h-4zM461 222h4v4h-4zM461 226h4v3h-4zM465 229h4v4h-4zM469 233h7v4h-7zM498 233h4v4h-4zM476 237h4v4h-4zM484 257h4v4h-4z"/>
<path fill="#fce0d0" d="M412 140h3v4h-3zM401 144h3v4h-3zM412 144h3v4h-3zM408 148h4v4h-4zM404 152h8v4h-8zM438 151h3v4h-3zM405 156h7v4h-7zM405 160h3v4h-3zM441 163h4v4h-4zM442 167h7v4h-7zM409 187h4v4h-4zM398 199h4v4h-4zM402 203h4v4h-4zM413 203h4v4h-4zM461 202h3v4h-3zM413 207h4v4h-4zM413 211h4v4h-4zM461 218h4v4h-4zM491 229h3v4h-3zM480 233h3v4h-3zM494 233h4v4h-4zM480 237h4v4h-4zM480 241h4v4h-4zM480 245h4v4h-4zM480 249h4v4h-4z"/>
<path fill="#fddcc9" d="M393 132h4v4h-4zM415 140h4v4h-4zM401 148h3v4h-3zM412 148h3v4h-3zM412 156h4v4h-4zM416 163h3v4h-3zM431 167h3v4h-3zM438 167h4v4h-4zM409 171h3v4h-3zM409 191h4v4h-4zM394 195h4v4h-4zM406 207h3v4h-3zM461 206h3v4h-3zM410 211h3v4h-3zM461 210h4v4h-4zM461 214h4v4h-4zM465 225h4v4h-4zM491 225h3v4h-3zM469 229h3v4h-3zM484 253h4v4h-4z"/>
<path fill="#fcd5bf" d="M393 128h4v4h-4zM397 140h4v4h-4zM415 144h4v4h-4zM401 152h3v4h-3zM412 152h4v4h-4zM438 155h3v4h-3zM405 164h3v4h-3zM434 167h4v4h-4zM409 175h3v4h-3zM409 183h4v4h-4zM398 195h4v4h-4zM409 195h4v4h-4zM402 199h4v4h-4zM409 207h4v4h-4zM465 222h4v3h-4zM472 229h11v4h-11zM487 229h4v4h-4zM483 233h4v4h-4zM484 237h3v4h-3zM502 248h4v4h-4zM488 257h3v3h-3z"/>
<path fill="#fbccb4" d="M393 136h4v4h-4zM415 148h4v4h-4zM416 160h3v3h-3zM438 159h3v4h-3zM419 163h8v4h-8zM438 163h3v4h-3zM409 179h3v4h-3zM406 203h7v4h-7zM465 218h3v4h-3zM487 225h4v4h-4zM483 229h4v4h-4zM491 233h3v4h-3zM498 244h4v4h-4zM484 249h3v4h-3z"/>
<path fill="#f9c4a9" d="M397 144h4v4h-4zM416 152h3v4h-3zM401 156h4v4h-4zM416 156h3v4h-3zM427 163h3v4h-3zM405 187h4v4h-4zM405 191h4v4h-4zM402 195h3v4h-3zM406 199h7v4h-7zM464 202h4v4h-4zM465 214h3v4h-3zM469 225h3v4h-3zM480 225h7v4h-7zM487 233h4v4h-4zM484 241h3v4h-3z"/>
<path fill="#f8bb9e" d="M393 140h4v4h-4zM430 143h4v4h-4zM419 159h4v4h-4zM430 163h4v4h-4zM405 168h4v4h-4zM405 183h4v4h-4zM394 192h4v3h-4zM398 191h7v4h-7zM405 195h4v4h-4zM465 210h3v4h-3zM472 210h4v4h-4zM468 218h4v3h-4zM469 221h3v4h-3zM487 221h4v4h-4zM476 225h4v4h-4zM484 245h3v4h-3z"/>
<path fill="#f6b394" d="M393 144h4v4h-4zM397 148h4v4h-4zM434 147h3v4h-3zM419 152h4v3h-4zM419 155h4v4h-4zM401 160h4v4h-4zM405 172h4v4h-4zM405 176h4v3h-4zM405 179h4v4h-4zM402 187h3v4h-3zM468 214h4v4h-4zM490 217h4v4h-4zM480 221h7v4h-7zM472 225h4v4h-4z"/>
<path fill="#f5aa89" d="M397 152h4v4h-4zM423 159h4v4h-4zM434 159h4v4h-4zM434 163h4v4h-4zM402 183h3v4h-3zM394 188h4v4h-4zM398 187h4v4h-4zM464 206h4v4h-4zM468 210h4v4h-4zM472 214h4v3h-4zM487 217h3v4h-3zM472 221h8v4h-8zM487 237h8v4h-8z"/>
<path fill="#f2a17f" d="M393 148h4v4h-4zM423 148h3v3h-3zM397 156h4v4h-4zM423 155h4v4h-4zM434 155h4v4h-4zM427 159h7v4h-7zM401 164h4v4h-4zM472 217h11v4h-11z"/>
<path fill="#ee9677" d="M426 147h4v4h-4zM423 151h4v4h-4zM434 151h4v4h-4zM394 160h7v4h-7zM401 176h4v4h-4zM401 180h4v3h-4zM394 184h4v4h-4zM398 184h4v3h-4zM468 206h4v4h-4zM483 217h4v4h-4z"/>
<path fill="#e98b6e" d="M393 152h4v4h-4zM427 151h3v4h-3zM427 155h3v4h-3zM394 164h7v4h-7zM401 168h4v4h-4zM401 172h4v4h-4zM394 180h7v4h-7z"/>
<path fill="#e48066" d="M430 147h4v4h-4zM394 156h3v4h-3zM398 172h3v4h-3zM394 176h7v4h-7z"/>
<path fill="#df765e" d="M430 155h4v4h-4zM394 168h7v4h-7zM394 172h4v4h-4zM487 241h4v4h-4z"/>
<path fill="#db6b55" d="M430 151h4v4h-4z"/>
</g>
<g transform="translate(242.60 0)">
<use href="#coast" fill="none" stroke="#808080" stroke-width="1.39" stroke-linejoin="round"/>
<use href="#grid" fill="none" stroke="#b0b0b0" stroke-width="1.11"/>
</g></g>
<rect x="393.5" y="125.5" width="161.0" height="154.0" fill="none" stroke="#000" stroke-width="1.11"/>
<text x="473.60" y="0" transform="matrix(1 0 0 1.07 0 95.8)" font-size="16.67" text-anchor="middle">dSST/dt [K hr<tspan dy="-6.6" font-size="11.67">−1</tspan><tspan dy="6.6">]</tspan></text>
<text x="394.10" y="115.1" font-size="13.89" letter-spacing="-0.16" text-anchor="middle">112.5<tspan dy="1.2" stroke="#000" stroke-width="0.25">°</tspan><tspan dy="-1.2">E</tspan></text>
<text x="398.00" y="296.3" font-size="13.89" letter-spacing="-0.16" text-anchor="middle">112.5<tspan dy="1.2" stroke="#000" stroke-width="0.25">°</tspan><tspan dy="-1.2">E</tspan></text>
<text x="462.90" y="115.1" font-size="13.89" letter-spacing="-0.16" text-anchor="middle">113.25<tspan dy="1.2" stroke="#000" stroke-width="0.25">°</tspan><tspan dy="-1.2">E</tspan></text>
<text x="467.20" y="296.3" font-size="13.89" letter-spacing="-0.16" text-anchor="middle">113.25<tspan dy="1.2" stroke="#000" stroke-width="0.25">°</tspan><tspan dy="-1.2">E</tspan></text>
<text x="532.35" y="115.1" font-size="13.89" letter-spacing="-0.16" text-anchor="middle">114<tspan dy="1.2" stroke="#000" stroke-width="0.25">°</tspan><tspan dy="-1.2">E</tspan></text>
<text x="535.50" y="296.3" font-size="13.89" letter-spacing="-0.16" text-anchor="middle">114<tspan dy="1.2" stroke="#000" stroke-width="0.25">°</tspan><tspan dy="-1.2">E</tspan></text>
<rect x="564.50" y="171.50" width="4.00" height="62.00" fill="url(#cb1)"/>
<rect x="564.50" y="171.50" width="4.00" height="62.00" fill="none" stroke="#000" stroke-width="1.11"/>
<path d="M569.00 183.5h4.86" stroke="#000" stroke-width="1.11"/>
<text x="578.00" y="187.90" font-size="13.89" letter-spacing="-0.35">0.25</text>
<path d="M569.00 202.5h4.86" stroke="#000" stroke-width="1.11"/>
<text x="578.00" y="207.70" font-size="13.89" letter-spacing="-0.35">0.00</text>
<path d="M569.00 221.5h4.86" stroke="#000" stroke-width="1.11"/>
<text x="578.00" y="226.80" font-size="13.89" letter-spacing="-0.35">−0.25</text>
<g clip-path="url(#ax2)">
<rect x="634.5" y="124.5" width="164.0" height="156.0" fill="#97b6e1"/>
<use href="#land" fill="#efefdb" transform="translate(485.20 0)"/>
<g shape-rendering="crispEdges">
<path fill="#dbdde2" d="M672 270h4v5h-4z"/>
<path fill="#f4f0ef" d="M637 184h4v5h-4zM667 211h4v5h-4zM704 222h4v5h-4z"/>
<path fill="#587691" d="M719 265h4v4h-4z"/>
<path fill="#718aa1" d="M719 261h4v4h-4z"/>
<path fill="#8498ad" d="M720 269h3v4h-3z"/>
<path fill="#96a8b9" d="M719 257h4v4h-4zM720 273h3v3h-3z"/>
<path fill="#b2becb" d="M719 253h4v4h-4z"/>
<path fill="#bac4d0" d="M733 225h4v4h-4zM733 229h4v4h-4zM716 265h3v4h-3zM723 265h4v4h-4zM654 274h3v4h-3z"/>
<path fill="#c2cad4" d="M644 156h3v4h-3zM716 257h3v4h-3zM723 257h4v4h-4zM716 261h3v4h-3zM723 261h4v4h-4zM716 269h4v4h-4zM723 269h4v3h-4zM749 268h4v4h-4zM723 272h4v4h-4z"/>
<path fill="#cbd1d8" d="M639 132h4v4h-4zM639 136h4v4h-4zM639 140h4v4h-4zM640 144h7v4h-7zM640 148h7v4h-7zM643 152h4v4h-4zM651 164h4v4h-4zM719 249h4v4h-4zM715 253h4v4h-4zM716 273h4v4h-4z"/>
<path fill="#d3d7dd" d="M640 152h3v4h-3zM644 160h7v4h-7zM647 164h4v4h-4zM651 168h4v3h-4zM655 167h3v4h-3zM730 225h3v4h-3zM737 225h4v4h-4zM730 229h3v4h-3zM737 229h4v4h-4zM733 233h4v4h-4zM708 237h3v4h-3zM701 245h3v4h-3zM715 245h8v4h-8zM715 249h4v4h-4zM723 249h3v4h-3zM723 253h4v4h-4zM672 266h7v4h-7zM653 270h4v4h-4zM650 274h4v4h-4zM657 274h4v4h-4zM749 272h4v4h-4z"/>
<path fill="#dbdde2" d="M639 128h4v4h-4zM643 140h4v4h-4zM647 152h4v4h-4zM640 156h4v4h-4zM647 156h4v4h-4zM651 160h4v4h-4zM655 164h3v3h-3zM647 168h4v4h-4zM689 206h3v4h-3zM711 206h3v4h-3zM711 210h7v4h-7zM685 222h4v4h-4zM708 233h7v4h-7zM711 237h4v4h-4zM704 245h4v4h-4zM712 245h3v4h-3zM723 245h3v4h-3zM712 249h3v4h-3zM734 256h4v4h-4zM672 262h3v4h-3zM668 266h4v4h-4zM657 270h4v4h-4zM672 270h3v4h-3zM675 270h4v3h-4zM745 268h4v4h-4zM753 268h3v4h-3zM727 272h4v4h-4z"/>
<path fill="#e4e4e6" d="M636 132h3v4h-3zM636 136h3v4h-3zM643 136h4v4h-4zM636 140h3v4h-3zM636 144h4v4h-4zM647 144h4v4h-4zM647 148h4v4h-4zM640 160h4v4h-4zM644 164h3v4h-3zM655 171h4v4h-4zM685 202h7v4h-7zM685 206h4v4h-4zM685 210h7v4h-7zM685 218h8v4h-8zM689 222h4v4h-4zM686 226h7v4h-7zM686 230h7v4h-7zM730 233h3v4h-3zM737 233h4v4h-4zM701 241h22v4h-22zM697 245h4v4h-4zM708 245h4v4h-4zM701 249h11v4h-11zM726 249h4v4h-4zM712 253h3v4h-3zM727 253h7v4h-7zM734 253h4v3h-4zM712 257h4v4h-4zM727 257h3v4h-3zM730 257h4v3h-4zM668 262h4v4h-4zM675 262h4v4h-4zM730 260h8v4h-8zM679 266h4v3h-4zM712 265h4v4h-4zM727 264h3v4h-3zM749 264h3v4h-3zM650 270h3v4h-3zM661 270h11v4h-11zM679 269h4v4h-4zM712 269h4v4h-4zM727 268h7v4h-7zM661 274h11v4h-11zM672 274h4v3h-4zM712 273h4v4h-4zM731 272h7v4h-7zM745 272h4v4h-4zM753 272h3v4h-3z"/>
<path fill="#eceaea" d="M636 128h3v4h-3zM647 136h3v4h-3zM647 140h3v4h-3zM651 144h7v4h-7zM636 148h4v4h-4zM651 148h3v4h-3zM636 152h4v4h-4zM651 152h7v4h-7zM636 156h4v4h-4zM651 156h11v4h-11zM636 160h4v4h-4zM655 160h3v4h-3zM658 160h4v3h-4zM640 164h4v4h-4zM658 163h4v4h-4zM644 168h3v4h-3zM644 172h7v4h-7zM651 171h4v4h-4zM696 190h7v4h-7zM696 194h7v4h-7zM685 198h18v4h-18zM692 202h22v4h-22zM692 206h4v4h-4zM703 206h8v4h-8zM692 210h4v4h-4zM707 210h4v4h-4zM682 214h11v4h-11zM682 218h3v4h-3zM693 218h3v4h-3zM682 222h3v4h-3zM693 222h3v4h-3zM682 226h4v4h-4zM693 226h4v4h-4zM682 230h4v4h-4zM693 230h4v4h-4zM704 229h11v4h-11zM726 229h4v4h-4zM686 234h11v4h-11zM704 233h4v4h-4zM697 238h3v3h-3zM700 237h8v4h-8zM730 237h3v4h-3zM693 242h4v3h-4zM697 241h4v4h-4zM723 241h3v4h-3zM693 245h4v4h-4zM697 249h4v4h-4zM701 253h11v4h-11zM668 258h11v4h-11zM708 257h4v4h-4zM738 256h3v4h-3zM661 262h7v4h-7zM679 262h4v4h-4zM683 261h3v4h-3zM708 261h8v4h-8zM727 261h3v3h-3zM738 260h3v4h-3zM650 266h18v4h-18zM683 265h3v4h-3zM708 265h4v4h-4zM730 264h11v4h-11zM745 264h4v4h-4zM752 264h4v4h-4zM646 270h4v4h-4zM683 269h3v4h-3zM709 269h3v4h-3zM734 268h11v4h-11zM646 274h4v4h-4zM676 273h11v4h-11zM709 273h3v4h-3zM738 272h7v4h-7z"/>
<path fill="#f4f0ef" d="M636 164h4v4h-4zM636 168h8v4h-8zM637 172h7v4h-7zM659 171h3v4h-3zM637 176h11v4h-11zM648 176h3v3h-3zM651 175h11v4h-11zM688 175h7v4h-7zM637 180h7v4h-7zM644 180h4v3h-4zM648 179h18v4h-18zM681 179h11v4h-11zM692 179h3v3h-3zM637 184h3v4h-3zM640 184h4v3h-4zM644 183h22v4h-22zM681 183h7v4h-7zM688 183h4v3h-4zM692 182h4v4h-4zM637 188h4v4h-4zM641 187h22v4h-22zM681 187h4v4h-4zM685 187h3v3h-3zM688 186h11v4h-11zM637 192h4v3h-4zM641 191h22v4h-22zM681 191h4v4h-4zM685 190h11v4h-11zM637 195h22v4h-22zM681 195h4v3h-4zM637 199h22v4h-22zM681 198h4v4h-4zM637 203h26v4h-26zM681 202h4v4h-4zM637 207h26v4h-26zM681 206h4v4h-4zM696 206h7v4h-7zM637 211h33v4h-33zM678 210h7v4h-7zM696 210h11v4h-11zM638 215h29v4h-29zM667 215h4v3h-4zM671 214h11v4h-11zM693 214h18v4h-18zM638 219h25v4h-25zM663 219h4v3h-4zM667 218h15v4h-15zM696 218h15v4h-15zM638 223h22v4h-22zM660 223h3v3h-3zM663 222h19v4h-19zM696 222h11v4h-11zM707 222h4v3h-4zM711 221h4v4h-4zM638 227h22v4h-22zM660 226h22v4h-22zM697 226h7v4h-7zM704 226h4v3h-4zM708 225h11v4h-11zM638 231h18v4h-18zM656 231h4v3h-4zM660 230h22v4h-22zM697 230h7v4h-7zM638 235h15v4h-15zM653 235h3v3h-3zM656 234h30v4h-30zM697 234h3v4h-3zM700 234h4v3h-4zM726 233h4v4h-4zM638 239h11v4h-11zM649 239h4v3h-4zM653 238h44v4h-44zM715 237h4v4h-4zM726 237h4v4h-4zM638 243h11v4h-11zM649 242h44v4h-44zM638 247h8v4h-8zM646 247h3v3h-3zM649 246h44v4h-44zM638 251h4v4h-4zM642 251h4v3h-4zM646 250h44v4h-44zM690 250h3v3h-3zM693 249h4v4h-4zM638 255h4v3h-4zM642 254h44v4h-44zM686 254h4v3h-4zM690 253h11v4h-11zM738 252h3v4h-3zM639 258h29v4h-29zM679 258h4v4h-4zM683 258h3v3h-3zM686 257h22v4h-22zM639 262h22v4h-22zM686 261h22v4h-22zM741 260h4v4h-4zM639 266h11v4h-11zM686 265h11v4h-11zM705 265h3v4h-3zM741 264h4v4h-4zM639 270h7v4h-7zM686 269h12v4h-12zM639 274h7v4h-7zM687 273h11v4h-11zM705 273h4v4h-4z"/>
<path fill="#efeae7" d="M684 151h3v4h-3zM688 155h3v4h-3zM691 159h4v4h-4zM677 163h7v4h-7zM673 167h11v4h-11zM662 171h4v4h-4zM677 171h11v4h-11zM692 171h3v4h-3zM662 175h4v4h-4zM677 175h11v4h-11zM677 179h4v4h-4zM677 183h4v4h-4zM663 187h3v4h-3zM677 187h4v4h-4zM663 191h3v4h-3zM677 191h4v4h-4zM659 195h7v4h-7zM677 195h4v4h-4zM659 199h11v4h-11zM678 199h3v3h-3zM663 203h7v4h-7zM678 202h3v4h-3zM663 207h7v4h-7zM670 207h4v3h-4zM678 206h3v4h-3zM670 210h8v4h-8zM715 229h4v4h-4zM722 229h4v4h-4zM722 237h4v4h-4zM741 256h4v4h-4zM697 265h8v4h-8zM705 269h4v4h-4zM698 273h7v4h-7z"/>
<path fill="#ebe5de" d="M688 159h3v4h-3zM691 163h4v4h-4zM691 167h4v4h-4zM673 171h4v4h-4zM688 171h4v4h-4zM673 175h4v4h-4zM666 183h4v4h-4zM666 187h4v4h-4zM666 191h4v4h-4zM666 195h4v4h-4zM670 203h4v4h-4zM719 229h3v4h-3zM715 233h4v4h-4zM722 233h4v4h-4zM719 237h3v4h-3zM741 252h4v4h-4zM745 260h4v4h-4zM698 269h3v4h-3z"/>
<path fill="#e6e0d6" d="M684 163h7v4h-7zM684 167h7v4h-7zM666 179h4v4h-4zM673 179h4v4h-4zM670 199h4v4h-4zM674 206h4v4h-4zM701 269h4v4h-4z"/>
<path fill="#e2dace" d="M666 171h4v4h-4zM666 175h4v4h-4zM674 183h3v4h-3zM674 203h4v3h-4zM745 256h4v4h-4zM749 260h3v4h-3z"/>
<path fill="#ddd4c5" d="M670 171h3v4h-3zM674 187h3v4h-3zM674 191h3v4h-3zM670 195h4v4h-4zM674 199h4v4h-4zM719 233h3v4h-3z"/>
<path fill="#d8cfbd" d="M670 175h3v4h-3zM674 195h3v4h-3z"/>
<path fill="#d4cab4" d="M670 191h4v4h-4zM745 248h3v4h-3zM745 252h4v4h-4zM749 256h3v4h-3z"/>
<path fill="#cfc4ac" d="M670 179h3v4h-3zM749 252h3v4h-3z"/>
<path fill="#c9bda4" d="M670 183h4v4h-4zM670 187h4v4h-4z"/>
</g>
<g transform="translate(485.20 0)">
<use href="#coast" fill="none" stroke="#808080" stroke-width="1.39" stroke-linejoin="round"/>
<use href="#grid" fill="none" stroke="#b0b0b0" stroke-width="1.11"/>
</g></g>
<rect x="635.5" y="125.5" width="162.0" height="154.0" fill="none" stroke="#000" stroke-width="1.11"/>
<text x="716.10" y="0" transform="matrix(1 0 0 1.07 0 95.8)" font-size="16.67" text-anchor="middle">dSST/dx [K km<tspan dy="-6.6" font-size="11.67">−1</tspan><tspan dy="6.6">]</tspan></text>
<text x="636.70" y="115.1" font-size="13.89" letter-spacing="-0.16" text-anchor="middle">112.5<tspan dy="1.2" stroke="#000" stroke-width="0.25">°</tspan><tspan dy="-1.2">E</tspan></text>
<text x="640.60" y="296.3" font-size="13.89" letter-spacing="-0.16" text-anchor="middle">112.5<tspan dy="1.2" stroke="#000" stroke-width="0.25">°</tspan><tspan dy="-1.2">E</tspan></text>
<text x="705.50" y="115.1" font-size="13.89" letter-spacing="-0.16" text-anchor="middle">113.25<tspan dy="1.2" stroke="#000" stroke-width="0.25">°</tspan><tspan dy="-1.2">E</tspan></text>
<text x="709.80" y="296.3" font-size="13.89" letter-spacing="-0.16" text-anchor="middle">113.25<tspan dy="1.2" stroke="#000" stroke-width="0.25">°</tspan><tspan dy="-1.2">E</tspan></text>
<text x="774.95" y="115.1" font-size="13.89" letter-spacing="-0.16" text-anchor="middle">114<tspan dy="1.2" stroke="#000" stroke-width="0.25">°</tspan><tspan dy="-1.2">E</tspan></text>
<text x="778.10" y="296.3" font-size="13.89" letter-spacing="-0.16" text-anchor="middle">114<tspan dy="1.2" stroke="#000" stroke-width="0.25">°</tspan><tspan dy="-1.2">E</tspan></text>
<rect x="807.50" y="171.50" width="3.00" height="62.00" fill="url(#cb2)"/>
<rect x="807.50" y="171.50" width="3.00" height="62.00" fill="none" stroke="#000" stroke-width="1.11"/>
<path d="M811.00 171.5h4.86" stroke="#000" stroke-width="1.11"/>
<text x="821.00" y="176.80" font-size="13.89" letter-spacing="-0.35">0.2</text>
<path d="M811.00 202.5h4.86" stroke="#000" stroke-width="1.11"/>
<text x="821.00" y="207.70" font-size="13.89" letter-spacing="-0.35">0.0</text>
<path d="M811.00 233.5h4.86" stroke="#000" stroke-width="1.11"/>
<text x="821.00" y="237.85" font-size="13.89" letter-spacing="-0.35">−0.2</text>
<g clip-path="url(#ax3)">
<rect x="877.5" y="124.5" width="164.0" height="156.0" fill="#97b6e1"/>
<use href="#land" fill="#efefdb" transform="translate(727.80 0)"/>
<g shape-rendering="crispEdges">
<path fill="#c2cad4" d="M943 226h4v5h-4z"/>
<path fill="#f4f0ef" d="M906 215h4v5h-4zM899 227h4v5h-4z"/>
<path fill="#7a91a7" d="M925 265h4v4h-4z"/>
<path fill="#8498ad" d="M922 266h3v3h-3zM900 270h7v4h-7z"/>
<path fill="#8da0b3" d="M929 265h4v4h-4z"/>
<path fill="#96a8b9" d="M933 265h3v4h-3z"/>
<path fill="#a0afbf" d="M991 252h4v4h-4zM991 256h4v4h-4zM907 270h7v4h-7zM896 274h4v4h-4z"/>
<path fill="#a9b6c5" d="M936 265h4v4h-4zM914 270h4v4h-4zM900 274h3v4h-3z"/>
<path fill="#b2becb" d="M918 266h4v4h-4zM940 265h4v4h-4zM918 270h4v3h-4z"/>
<path fill="#bac4d0" d="M957 225h4v4h-4zM896 270h4v4h-4zM922 269h3v4h-3zM903 274h4v4h-4z"/>
<path fill="#c2cad4" d="M939 222h11v4h-11zM950 222h4v3h-4zM939 226h7v4h-7zM946 226h4v3h-4zM950 225h7v4h-7zM987 252h4v4h-4zM995 256h4v4h-4zM914 266h4v4h-4zM944 265h3v4h-3zM925 269h4v4h-4z"/>
<path fill="#cbd1d8" d="M928 222h4v4h-4zM935 222h4v4h-4zM928 226h4v4h-4zM935 226h4v4h-4zM969 237h3v4h-3zM969 257h4v4h-4zM973 257h4v3h-4zM988 256h3v4h-3zM911 266h3v4h-3zM907 274h4v4h-4z"/>
<path fill="#d3d7dd" d="M924 222h4v4h-4zM932 222h3v4h-3zM954 221h3v4h-3zM924 226h4v4h-4zM932 226h3v4h-3zM961 229h4v4h-4zM969 241h4v4h-4zM969 245h4v4h-4zM973 253h3v4h-3zM925 261h11v4h-11zM991 260h4v4h-4zM903 266h8v4h-8zM929 269h7v4h-7zM892 274h4v4h-4zM911 274h4v4h-4z"/>
<path fill="#dbdde2" d="M931 206h8v4h-8zM921 222h3v4h-3zM921 226h3v4h-3zM958 229h3v4h-3zM969 233h3v4h-3zM969 249h4v4h-4zM984 248h3v4h-3zM969 253h4v4h-4zM922 262h3v4h-3zM936 261h8v4h-8zM995 260h4v4h-4zM900 266h3v4h-3zM892 270h4v4h-4zM936 269h8v4h-8z"/>
<path fill="#e4e4e6" d="M931 202h8v4h-8zM928 218h26v4h-26zM917 222h4v4h-4zM917 226h4v4h-4zM939 230h8v4h-8zM947 229h11v4h-11zM984 252h3v4h-3zM911 262h11v4h-11zM944 261h3v4h-3zM969 261h4v3h-4zM973 260h4v4h-4zM988 260h3v4h-3zM896 266h4v4h-4zM947 265h4v4h-4zM944 269h3v4h-3zM915 274h3v3h-3z"/>
<path fill="#eceaea" d="M935 198h3v4h-3zM928 202h3v4h-3zM939 202h3v4h-3zM928 206h3v4h-3zM939 206h3v4h-3zM928 210h14v4h-14zM924 214h33v4h-33zM917 218h11v4h-11zM954 218h3v3h-3zM913 222h4v4h-4zM913 226h4v4h-4zM917 230h22v4h-22zM983 229h4v4h-4zM961 233h8v4h-8zM972 233h8v4h-8zM965 237h4v4h-4zM965 241h4v4h-4zM965 245h4v4h-4zM965 249h4v4h-4zM914 254h4v4h-4zM965 253h4v4h-4zM896 258h29v4h-29zM929 257h18v4h-18zM966 257h3v4h-3zM977 256h3v4h-3zM984 256h4v4h-4zM892 262h19v4h-19zM947 261h4v4h-4zM889 266h7v4h-7zM951 265h4v4h-4zM991 264h8v4h-8zM889 270h3v4h-3zM947 269h4v4h-4zM885 274h7v4h-7zM918 273h22v4h-22z"/>
<path fill="#f4f0ef" d="M878 128h7v4h-7zM878 132h4v4h-4zM893 144h4v4h-4zM893 148h4v4h-4zM930 155h4v4h-4zM930 159h8v4h-8zM927 163h14v4h-14zM927 167h14v4h-14zM927 171h11v4h-11zM938 171h4v3h-4zM927 175h11v4h-11zM938 174h4v4h-4zM879 180h8v4h-8zM887 180h3v3h-3zM890 179h19v4h-19zM927 179h7v4h-7zM934 179h4v3h-4zM938 178h4v4h-4zM879 184h4v4h-4zM883 184h4v3h-4zM887 183h25v4h-25zM923 183h8v4h-8zM931 183h3v3h-3zM934 182h8v4h-8zM879 188h4v4h-4zM883 187h33v4h-33zM924 187h3v4h-3zM927 187h4v3h-4zM931 186h11v4h-11zM880 192h3v3h-3zM883 191h44v4h-44zM927 190h4v4h-4zM935 190h11v4h-11zM880 195h44v4h-44zM924 195h3v3h-3zM927 194h4v4h-4zM935 194h14v4h-14zM880 199h40v4h-40zM920 199h4v3h-4zM924 198h7v4h-7zM938 198h11v4h-11zM880 203h37v4h-37zM917 203h3v3h-3zM920 202h8v4h-8zM942 202h8v4h-8zM880 207h33v4h-33zM913 207h4v3h-4zM917 206h11v4h-11zM942 206h19v4h-19zM880 211h33v4h-33zM913 210h15v4h-15zM942 210h15v4h-15zM880 215h29v4h-29zM909 215h4v3h-4zM913 214h11v4h-11zM880 219h26v4h-26zM906 219h4v3h-4zM910 218h7v4h-7zM880 223h22v4h-22zM902 223h4v3h-4zM906 222h7v4h-7zM880 227h22v4h-22zM902 226h11v4h-11zM979 225h8v4h-8zM880 231h19v4h-19zM899 231h4v3h-4zM903 230h14v4h-14zM969 229h14v4h-14zM881 235h14v4h-14zM895 235h4v3h-4zM899 234h44v4h-44zM943 234h4v3h-4zM947 233h14v4h-14zM881 239h11v4h-11zM892 239h3v3h-3zM895 238h37v4h-37zM936 238h3v4h-3zM939 238h4v3h-4zM943 237h7v4h-7zM961 237h4v4h-4zM881 243h11v4h-11zM892 242h29v4h-29zM881 247h7v4h-7zM888 247h4v3h-4zM892 246h29v4h-29zM881 251h4v4h-4zM885 251h3v3h-3zM888 250h41v4h-41zM932 250h4v3h-4zM936 249h15v4h-15zM881 255h4v3h-4zM885 254h29v4h-29zM918 254h11v4h-11zM929 254h3v3h-3zM932 253h33v4h-33zM881 258h15v4h-15zM925 258h4v3h-4zM947 257h19v4h-19zM980 256h4v4h-4zM881 262h11v4h-11zM951 261h18v4h-18zM881 266h8v4h-8zM955 265h11v4h-11zM881 270h8v4h-8zM951 269h15v4h-15zM991 268h11v4h-11zM881 274h4v4h-4zM940 273h22v4h-22zM988 272h15v4h-15z"/>
<path fill="#efeae7" d="M885 128h4v4h-4zM882 132h7v4h-7zM878 136h4v4h-4zM878 140h4v4h-4zM889 140h8v4h-8zM879 144h3v4h-3zM890 144h3v4h-3zM879 148h3v4h-3zM890 148h3v4h-3zM897 148h4v4h-4zM879 152h3v4h-3zM890 152h11v4h-11zM879 156h3v4h-3zM890 156h14v4h-14zM926 155h4v4h-4zM879 160h4v4h-4zM890 160h11v4h-11zM901 160h4v3h-4zM905 159h3v4h-3zM927 159h3v4h-3zM879 164h4v4h-4zM916 163h7v4h-7zM901 167h4v4h-4zM916 167h11v4h-11zM879 172h4v4h-4zM890 172h4v4h-4zM894 171h11v4h-11zM912 171h15v4h-15zM879 176h11v4h-11zM890 176h4v3h-4zM894 175h22v4h-22zM923 175h4v4h-4zM909 179h7v4h-7zM923 179h4v4h-4zM912 183h4v4h-4zM916 187h8v4h-8zM932 238h4v4h-4zM950 237h4v4h-4zM921 242h7v4h-7zM939 241h15v4h-15zM961 241h4v4h-4zM921 246h8v4h-8zM940 245h14v4h-14zM929 250h3v4h-3zM951 249h7v4h-7zM962 249h3v4h-3zM984 260h4v4h-4zM988 264h3v4h-3zM988 268h3v4h-3zM962 273h4v3h-4zM966 272h7v4h-7zM984 272h4v4h-4z"/>
<path fill="#ebe5de" d="M882 136h7v4h-7zM882 148h8v4h-8zM883 164h11v4h-11zM901 163h4v4h-4zM879 168h4v4h-4zM886 168h8v4h-8zM886 172h4v4h-4zM916 175h7v4h-7zM920 179h3v4h-3zM916 183h7v4h-7zM954 241h4v4h-4zM954 245h4v4h-4zM962 245h3v4h-3zM958 249h4v4h-4zM977 260h3v4h-3zM966 265h3v4h-3zM966 269h3v3h-3zM973 272h11v4h-11z"/>
<path fill="#e6e0d6" d="M882 140h7v4h-7zM882 144h8v4h-8zM882 152h8v4h-8zM882 156h8v4h-8zM883 160h7v4h-7zM883 168h3v4h-3zM883 172h3v4h-3zM916 179h4v4h-4zM968 225h4v4h-4zM954 237h7v4h-7zM928 242h8v4h-8zM936 242h3v3h-3zM958 241h3v4h-3zM929 246h7v4h-7zM936 245h4v4h-4zM980 260h4v4h-4zM973 264h4v4h-4zM973 268h7v4h-7zM984 268h4v4h-4z"/>
<path fill="#e2dace" d="M894 164h3v4h-3zM897 164h4v3h-4zM894 168h3v3h-3zM897 167h4v4h-4zM969 264h4v4h-4zM984 264h4v4h-4zM969 268h4v4h-4zM980 268h4v4h-4z"/>
<path fill="#ddd4c5" d="M958 245h4v4h-4zM977 264h3v4h-3z"/>
<path fill="#d4cab4" d="M980 264h4v4h-4z"/>
</g>
<g transform="translate(727.80 0)">
<use href="#coast" fill="none" stroke="#808080" stroke-width="1.39" stroke-linejoin="round"/>
<use href="#grid" fill="none" stroke="#b0b0b0" stroke-width="1.11"/>
</g></g>
<rect x="878.5" y="125.5" width="162.0" height="154.0" fill="none" stroke="#000" stroke-width="1.11"/>
<text x="959.10" y="0" transform="matrix(1 0 0 1.07 0 95.8)" font-size="16.67" text-anchor="middle">dSST/dy [K km<tspan dy="-6.6" font-size="11.67">−1</tspan><tspan dy="6.6">]</tspan></text>
<text x="879.30" y="115.1" font-size="13.89" letter-spacing="-0.16" text-anchor="middle">112.5<tspan dy="1.2" stroke="#000" stroke-width="0.25">°</tspan><tspan dy="-1.2">E</tspan></text>
<text x="883.20" y="296.3" font-size="13.89" letter-spacing="-0.16" text-anchor="middle">112.5<tspan dy="1.2" stroke="#000" stroke-width="0.25">°</tspan><tspan dy="-1.2">E</tspan></text>
<text x="948.10" y="115.1" font-size="13.89" letter-spacing="-0.16" text-anchor="middle">113.25<tspan dy="1.2" stroke="#000" stroke-width="0.25">°</tspan><tspan dy="-1.2">E</tspan></text>
<text x="952.40" y="296.3" font-size="13.89" letter-spacing="-0.16" text-anchor="middle">113.25<tspan dy="1.2" stroke="#000" stroke-width="0.25">°</tspan><tspan dy="-1.2">E</tspan></text>
<text x="1017.55" y="115.1" font-size="13.89" letter-spacing="-0.16" text-anchor="middle">114<tspan dy="1.2" stroke="#000" stroke-width="0.25">°</tspan><tspan dy="-1.2">E</tspan></text>
<text x="1020.70" y="296.3" font-size="13.89" letter-spacing="-0.16" text-anchor="middle">114<tspan dy="1.2" stroke="#000" stroke-width="0.25">°</tspan><tspan dy="-1.2">E</tspan></text>
<rect x="1050.50" y="171.50" width="3.00" height="62.00" fill="url(#cb3)"/>
<rect x="1050.50" y="171.50" width="3.00" height="62.00" fill="none" stroke="#000" stroke-width="1.11"/>
<path d="M1054.00 171.5h4.86" stroke="#000" stroke-width="1.11"/>
<text x="1064.00" y="176.80" font-size="13.89" letter-spacing="-0.35">0.2</text>
<path d="M1054.00 202.5h4.86" stroke="#000" stroke-width="1.11"/>
<text x="1064.00" y="207.70" font-size="13.89" letter-spacing="-0.35">0.0</text>
<path d="M1054.00 233.5h4.86" stroke="#000" stroke-width="1.11"/>
<text x="1064.00" y="237.85" font-size="13.89" letter-spacing="-0.35">−0.2</text>
</svg></body></html>
